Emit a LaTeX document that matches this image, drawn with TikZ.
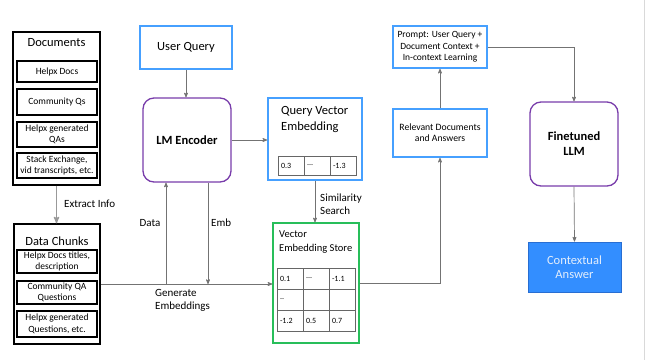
\documentclass[tikz,border=0pt]{standalone}
\usepackage{fontspec}
\setmainfont{Carlito}
\usepackage{tikz}
\usetikzlibrary{arrows,positioning}
\definecolor{qblue}{RGB}{70,160,255}
\definecolor{mpurple}{RGB}{120,60,170}
\definecolor{sgreen}{RGB}{40,190,90}
\definecolor{afill}{RGB}{51,142,255}
\definecolor{aedge}{RGB}{40,110,210}
\definecolor{atext}{RGB}{228,238,252}

\begin{document}
\begin{tikzpicture}[>=stealth', x=1pt, y=-1pt,
    frame/.style={draw=black,line width=1.3pt,inner sep=0pt},
    item/.style={draw=black,line width=1.3pt,minimum width=80pt,inner sep=0pt,align=center,font=\fontsize{9.5}{11.5}\selectfont},
    title/.style={font=\fontsize{12.5}{15}\selectfont},
    qbox/.style={draw=qblue,line width=1.6pt,inner sep=0pt,align=center},
    model/.style={draw=mpurple,line width=1.3pt,rounded corners=11pt,minimum width=88pt,minimum height=84pt,align=center,font=\bfseries\fontsize{12.5}{15}\selectfont},
    cell/.style={draw=black!60,line width=0.7pt,outer sep=0pt,inner xsep=3pt,inner ysep=0pt,text width=20pt,minimum height=#1,align=left,font=\fontsize{8}{9}\selectfont},
    cell/.default=19pt,
    link/.style={draw=black!55,line width=0.7pt},
    tag/.style={align=left,inner sep=0pt,font=\fontsize{11}{13}\selectfont}]
  \useasboundingbox (0,0) rectangle (646,360);
  \draw[black!15,line width=1pt] (644,0) -- (644,360);

  % sources
  \node[frame,minimum width=87pt,minimum height=153pt] (docs) at (56.5,108.5) {};
  \node[title] (docstitle) at (56.5,43) {Documents};
  \node[item,minimum height=21pt] (d1) at (57,71.5) {Helpx Docs};
  \node[item,minimum height=26pt] (d2) at (57,102) {Community Qs};
  \node[item,minimum height=25pt] (d3) at (57,134.5) {Helpx generated\\QAs};
  \node[item,minimum height=25pt] (d4) at (57,165.5) {Stack Exchange,\\vid transcripts,\ etc.};

  \node[frame,minimum width=86pt,minimum height=120pt] (chunks) at (57,284) {};
  \node[title] (chunkstitle) at (57,241.5) {Data Chunks};
  \node[item,minimum height=23pt] (c1) at (57,261.5) {Helpx Docs titles,\\description};
  \node[item,minimum height=23pt] (c2) at (57,292.5) {Community QA\\Questions};
  \node[item,minimum height=26pt] (c3) at (57,324) {Helpx generated\\Questions, etc.};

  % encoder
  \node[qbox,minimum width=92pt,minimum height=43pt,title] (query) at (186,47.5) {User Query};
  \node[model] (enc) at (187,140) {LM Encoder};

  \node[qbox,minimum width=94pt,minimum height=82pt] (qvec) at (315,139) {};
  \node[anchor=north west,align=left,inner sep=0pt,font=\fontsize{12.5}{16}\selectfont] (qvtext) at (281,106) {Query Vector\\Embedding};
  \node[cell,anchor=north west] (q1) at (278,156) {0.3};
  \node[cell,right=0pt of q1] (q2) {...};
  \node[cell,right=0pt of q2] (q3) {-1.3};

  % store
  \node[draw=sgreen,line width=1.4pt,minimum width=86pt,minimum height=120pt,inner sep=0pt] (store) at (316,283) {};
  \node[anchor=north west,align=left,inner sep=0pt,font=\fontsize{10.5}{14}\selectfont] (stext) at (279,231) {Vector\\Embedding Store};
  \node[cell=21pt,anchor=north west] (s11) at (277,268) {0.1};
  \node[cell=21pt,right=0pt of s11] (s12) {...};
  \node[cell=21pt,right=0pt of s12] (s13) {-1.1};
  \node[cell=21pt,below=0pt of s11] (s21) {..};
  \node[cell=21pt,right=0pt of s21] (s22) {};
  \node[cell=21pt,right=0pt of s22] (s23) {};
  \node[cell=21pt,below=0pt of s21] (s31) {-1.2};
  \node[cell=21pt,right=0pt of s31] (s32) {0.5};
  \node[cell=21pt,right=0pt of s32] (s33) {0.7};

  % retrieval and answer
  \node[qbox,minimum width=94pt,minimum height=48pt,font=\fontsize{9.7}{11.3}\selectfont] (rel) at (440,133) {Relevant Documents\\and Answers};
  \node[qbox,minimum width=94pt,minimum height=42pt,font=\fontsize{9.5}{11.7}\selectfont] (prompt) at (440,47) {Prompt: User Query +\\Document Context +\\In-context Learning};
  \node[model] (llm) at (574,144) {Finetuned\\LLM};
  \node[draw=aedge,fill=afill,line width=1pt,minimum width=93pt,minimum height=50pt,inner sep=0pt,align=center,text=atext,font=\fontsize{12.5}{14}\selectfont] (ans) at (574.5,267) {Contextual\\Answer};

  \coordinate (datafoot) at (166,284);
  \coordinate (embfoot) at (208,284);

  \draw[draw=black!40,line width=1.3pt,->] (docs.south) -- (docs.south |- chunks.north);
  \node[tag,anchor=west] (extract) at (64,204) {Extract Info};
  \draw[link,->] (chunks.east) -- (chunks.east -| store.west);
  \draw[link,->] (datafoot) -- (datafoot |- enc.south);
  \draw[link,->] (embfoot |- enc.south) -- (embfoot);
  \node[tag] (datalabel) at (150,223) {Data};
  \node[tag,anchor=west] (emblabel) at (211,223) {Emb};
  \node[tag,anchor=west] (genlabel) at (155,300.5) {Generate\\Embeddings};
  \draw[link,->] (query.south) -- (query.south |- enc.north);
  \draw[link,->] (enc.east) -- (enc.east -| qvec.west);
  \draw[link,->] (qvec.south) -- (qvec.south |- store.north);
  \node[tag,anchor=west] (simlabel) at (320,204.5) {Similarity\\Search};
  \draw[link,->] (store.east) -| (rel.south);
  \draw[link,->] (rel.north) -- (prompt.south);
  \draw[link,->] (prompt.east) -| (llm.north);
  \draw[link,->] (llm.south) -- (ans.north);
\end{tikzpicture}
\end{document}
